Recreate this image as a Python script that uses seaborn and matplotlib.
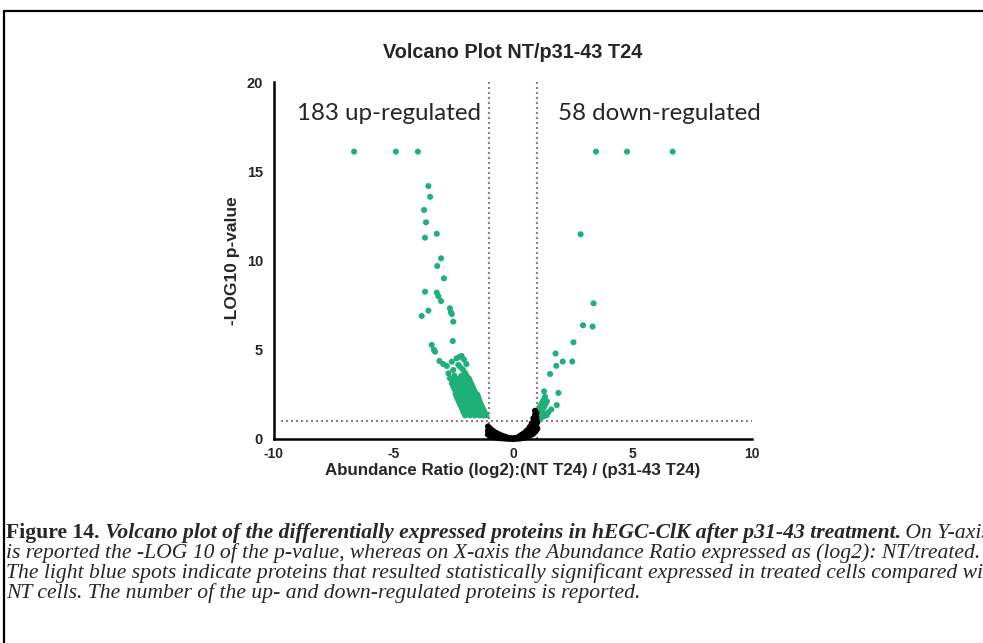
import numpy as np
import pandas as pd
import matplotlib
matplotlib.use("Agg")
import matplotlib.pyplot as plt
from matplotlib.lines import Line2D
from matplotlib.ticker import MultipleLocator
import seaborn as sns

# ---------------- data ----------------
title = "Volcano Plot NT/p31-43 T24"
xlabel = "Abundance Ratio (log2):(NT T24) / (p31-43 T24)"
ylabel = "-LOG10 p-value"
up_label = "183 up-regulated"
down_label = "58 down-regulated"
x_ticks = [-10, -5, 0, 5, 10]
y_ticks = [0, 5, 10, 15, 20]
fc_threshold = 1.0
p_threshold = 1.0

# significant, negative log2 ratio (scattered part)
left_x = [-6.65, -4.90, -3.98, -3.54, -3.47, -3.72, -3.64, -3.68, -3.19, -3.01,
          -3.17, -2.89, -3.68, -3.19, -3.12, -3.01, -2.64, -2.60, -2.56, -3.54,
          -3.82, -2.50, -2.52, -3.40, -3.31, -3.26, -3.08, -2.92, -2.77, -2.56,
          -2.36, -2.22, -2.15, -2.22, -2.50, -2.29, -2.70, -2.64, -2.56, -2.36,
          -2.00, -2.10, -1.95, -2.05]
left_y = [16.1, 16.1, 16.1, 14.17, 13.57, 12.83, 12.14, 11.28, 11.5, 10.12,
          9.69, 9.0, 8.25, 8.2, 8.0, 7.73, 7.32, 7.1, 7.0, 7.19,
          6.89, 6.57, 5.49, 5.27, 5.0, 4.89, 4.37, 4.2, 4.09, 4.33,
          4.52, 4.61, 4.65, 4.05, 3.87, 4.15, 3.68, 3.4, 3.12, 3.3,
          3.7, 3.9, 4.2, 4.45]

# significant, negative log2 ratio (dense part): one row per -log10 p level
left_rows_y = [3.55, 3.4, 3.25, 3.1, 2.95, 2.8, 2.65, 2.5, 2.35, 2.2,
               2.05, 1.9, 1.75, 1.6, 1.45, 1.32]
left_rows_x = [
    [-2.45, -2.15, -1.95],
    [-2.45, -2.25, -2.05, -1.85],
    [-2.5, -2.2, -2.0, -1.8],
    [-2.4, -2.25, -2.1, -1.9, -1.75],
    [-2.5, -2.35, -2.2, -2.0, -1.85, -1.7],
    [-2.45, -2.3, -2.15, -2.0, -1.8, -1.65],
    [-2.4, -2.25, -2.1, -1.95, -1.8, -1.6],
    [-2.4, -2.25, -2.1, -1.9, -1.75, -1.6, -1.5],
    [-2.35, -2.2, -2.05, -1.9, -1.75, -1.6, -1.45],
    [-2.3, -2.15, -2.0, -1.85, -1.7, -1.55, -1.42],
    [-2.25, -2.1, -1.95, -1.8, -1.65, -1.5, -1.38],
    [-2.2, -2.05, -1.9, -1.75, -1.6, -1.45, -1.33],
    [-2.15, -2.0, -1.85, -1.7, -1.55, -1.4, -1.28],
    [-2.1, -1.95, -1.8, -1.65, -1.5, -1.35, -1.22],
    [-2.05, -1.9, -1.75, -1.6, -1.45, -1.3, -1.17],
    [-2.0, -1.8, -1.6, -1.4, -1.25, -1.12],
]

# significant, positive log2 ratio
right_x = [3.47, 4.77, 6.68, 2.83, 3.37, 2.93, 3.33, 2.53, 1.78, 2.08,
           2.48, 1.81, 1.55, 1.30, 1.90, 1.83, 1.60, 1.41,
           1.34, 1.28, 1.22, 1.16, 1.10, 1.05, 1.42, 1.36, 1.30, 1.24,
           1.18, 1.12, 1.48, 1.40, 1.32, 1.25, 1.15, 1.08, 1.20]
right_y = [16.1, 16.1, 16.1, 11.47, 7.6, 6.37, 6.3, 5.42, 4.79, 4.34,
           4.34, 4.1, 3.64, 2.67, 2.58, 1.9, 1.66, 1.32,
           2.37, 2.2, 2.05, 1.9, 1.75, 1.6, 2.1, 1.95, 1.8, 1.65,
           1.5, 1.35, 1.5, 1.4, 1.3, 1.25, 1.2, 1.15, 1.45]

# not significant: one column per log2 ratio value
ns_cols_x = [-1.05, -0.98, -0.9, -0.8, -0.7, -0.6, -0.5, -0.4, -0.3, -0.2,
             -0.1, 0.0, 0.1, 0.2, 0.3, 0.4, 0.5, 0.6, 0.7, 0.78,
             0.85, 0.92, 0.98, 1.02]
ns_cols_y = [
    [0.25, 0.45, 0.7], [0.2, 0.4, 0.62], [0.15, 0.35, 0.52], [0.1, 0.28, 0.42],
    [0.08, 0.22, 0.34], [0.05, 0.17, 0.27], [0.04, 0.13, 0.21], [0.03, 0.1, 0.16],
    [0.02, 0.07, 0.12], [0.01, 0.06], [0.01, 0.05], [0.0, 0.04],
    [0.01, 0.06], [0.02, 0.09], [0.03, 0.12, 0.19], [0.05, 0.16, 0.27],
    [0.08, 0.22, 0.37], [0.12, 0.3, 0.5], [0.18, 0.42, 0.67], [0.25, 0.55, 0.87],
    [0.3, 0.6, 0.9, 1.15], [0.4, 0.75, 1.05, 1.35, 1.58], [0.5, 0.85, 1.2, 1.45],
    [0.6, 0.95],
]

caption_runs = [
    [("Figure 14.", "normal", "bold"),
     (" Volcano plot of the differentially expressed proteins in hEGC-ClK after p31-43 treatment.", "italic", "bold"),
     (" On Y-axis", "italic", "normal")],
    [("is reported the -LOG 10 of the p-value, whereas on X-axis the Abundance Ratio expressed as (log2): NT/treated.", "italic", "normal")],
    [("The light blue spots indicate proteins that resulted statistically significant expressed in treated cells compared with", "italic", "normal")],
    [("NT cells. The number of the up- and down-regulated proteins is reported.", "italic", "normal")],
]

# ---------------- assemble ----------------
rows = []
for x, y in zip(left_x, left_y):
    rows.append((x, y, "up"))
for yv, xs in zip(left_rows_y, left_rows_x):
    for x in xs:
        rows.append((x, yv, "up"))
for x, y in zip(right_x, right_y):
    rows.append((x, y, "down"))
for x, ys in zip(ns_cols_x, ns_cols_y):
    for y in ys:
        rows.append((x, y, "ns"))
df = pd.DataFrame(rows, columns=["log2", "nlog10p", "group"])

GREEN = "#1fb07a"
sns.set_style("white")
plt.rcParams["font.family"] = ["Liberation Sans", "DejaVu Sans"]

W, H = 983, 643
fig = plt.figure(figsize=(W / 100, H / 100), dpi=100)
fig.patch.set_facecolor("white")
ax = fig.add_axes([274 / W, 1 - 439 / H, 478 / W, 357 / H])

# threshold lines
dot_kw = dict(color="#858585", lw=1.5, linestyle=(0, (1, 1.4)), dash_capstyle="butt", zorder=1)
ax.plot([-fc_threshold, -fc_threshold], [0, y_ticks[-1]], **dot_kw)
ax.plot([fc_threshold, fc_threshold], [0, y_ticks[-1]], **dot_kw)
ax.plot([-9.7, x_ticks[-1]], [p_threshold, p_threshold], **dot_kw)

sns.scatterplot(data=df, x="log2", y="nlog10p", hue="group",
                palette={"up": GREEN, "down": GREEN, "ns": "black"},
                s=19, linewidth=0, legend=False, ax=ax, zorder=3, clip_on=False)

ax.set_xlim(x_ticks[0], x_ticks[-1])
ax.set_ylim(y_ticks[0], y_ticks[-1])
ax.set_xticks(x_ticks)
ax.xaxis.set_minor_locator(MultipleLocator(1))
ax.set_yticks(y_ticks)
ax.set_xticklabels([str(v) for v in x_ticks], fontsize=10, fontweight="bold")
ax.set_yticklabels([str(v) for v in y_ticks], fontsize=10.5, fontweight="bold")
ax.tick_params(axis="both", which="both", direction="out", length=5, width=1.8,
               color="black")
ax.tick_params(axis="x", pad=0.8)
ax.tick_params(axis="y", pad=3)
for side in ["top", "right"]:
    ax.spines[side].set_visible(False)
for side in ["left", "bottom"]:
    ax.spines[side].set_linewidth(1.8)
    ax.spines[side].set_color("black")
ax.set_xlabel(xlabel, fontsize=12.2, fontweight="bold")
ax.set_ylabel(ylabel, fontsize=12.5, fontweight="bold")
ax.xaxis.set_label_coords(0.5, (439 - 470) / 357)
ax.xaxis.label.set_va("center")
ax.yaxis.set_label_coords((232 - 274) / 478, 0.5)
ax.yaxis.label.set_va("center")
ax.set_facecolor("white")

ax.text(-9.04, 18.26, up_label, fontsize=17.4, family=["Lato", "DejaVu Sans"], va="center", ha="left")
ax.text(1.88, 18.26, down_label, fontsize=17.4, family=["Lato", "DejaVu Sans"], va="center", ha="left")

fig.text(513 / W, 1 - 53 / H, title, fontsize=14.3, fontweight="bold", ha="center", va="center")

# frame
fig.add_artist(Line2D([4 / W, 4 / W], [0, 1 - 11 / H], color="black", lw=1.6, transform=fig.transFigure))
fig.add_artist(Line2D([4 / W, 1], [1 - 11 / H, 1 - 11 / H], color="black", lw=1.6, transform=fig.transFigure))

# caption with mixed styles, font size fitted to the last line width
renderer = fig.canvas.get_renderer()
serif = ["Liberation Serif", "DejaVu Serif"]
probe = fig.text(0, 0, caption_runs[3][0][0], fontsize=10, family=serif, style="italic")
pw = probe.get_window_extent(renderer).width
probe.remove()
cap_size = 10 * (641 - 6) / pw
baselines = [538, 558, 578, 598]
for line, base in zip(caption_runs, baselines):
    xpx = 6
    for txt, style, weight in line:
        t = fig.text(xpx / W, 1 - base / H, txt, fontsize=cap_size, family=serif,
                     style=style, fontweight=weight, ha="left", va="baseline")
        xpx += t.get_window_extent(renderer).width

fig.savefig("out.png", dpi=100)
